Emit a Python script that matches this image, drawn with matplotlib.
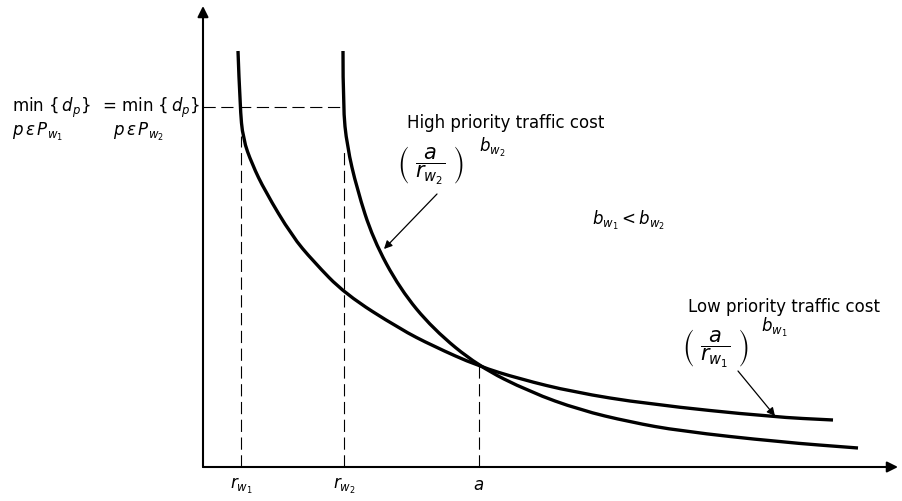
import numpy as np
import matplotlib
matplotlib.use("Agg")
import matplotlib.pyplot as plt
from matplotlib.path import Path
from matplotlib.patches import PathPatch

plt.rcParams['font.family'] = ['DejaVu Sans']
plt.rcParams['mathtext.fontset'] = 'dejavusans'

# curve points (units: pixels from the origin of the axes)
low_x = [35, 37, 40, 49, 62, 89, 110, 142, 197, 230, 275, 317, 370, 444, 570, 630]
low_y = [416, 360, 328, 303, 276, 231, 206, 173, 138, 121, 101, 88, 75, 63, 50, 47]

high_x = [140, 140, 144, 154, 170, 197, 230, 275, 327, 377, 427, 477, 577, 655]
high_y = [416, 360, 321, 278, 228, 178, 138, 101, 75, 57, 45, 36, 25, 19]

r_w1 = 38
r_w2 = 141
a_pt = 276
d_min = 360
a_cost = 101


def smooth_curve(xs, ys):
    # quadratic bezier through the midpoints, read points used as control points
    pts = np.column_stack([xs, ys]).astype(float)
    verts = [pts[0]]
    codes = [Path.MOVETO]
    for i in range(1, len(pts) - 1):
        mid = (pts[i] + pts[i + 1]) / 2
        verts += [pts[i], mid]
        codes += [Path.CURVE3, Path.CURVE3]
    verts.append(pts[-1])
    codes.append(Path.LINETO)
    return Path(verts, codes)


fig = plt.figure(figsize=(9.03, 5.02), dpi=100)
ax = fig.add_axes([0, 0, 1, 1])
ax.set_xlim(-203, 700)
ax.set_ylim(-34, 468)
ax.axis('off')

# axes with arrows
ax.annotate('', xy=(695, 0), xytext=(0, 0),
            arrowprops=dict(arrowstyle='-|>', lw=1.5, color='black', mutation_scale=16,
                            shrinkA=0, shrinkB=0))
ax.annotate('', xy=(0, 461), xytext=(0, 0),
            arrowprops=dict(arrowstyle='-|>', lw=1.5, color='black', mutation_scale=16,
                            shrinkA=0, shrinkB=0))

# cost curves
for xs, ys in [(low_x, low_y), (high_x, high_y)]:
    ax.add_patch(PathPatch(smooth_curve(xs, ys), facecolor='none', edgecolor='black',
                           lw=2.4, capstyle='butt', joinstyle='round'))

# dashed guides
dash = dict(color='black', lw=0.8, linestyle=(0, (11, 5)))
ax.plot([0, r_w2 - 1], [d_min, d_min], **dash)
ax.plot([r_w1, r_w1], [0, 331], **dash)
ax.plot([r_w2, r_w2], [0, 320], **dash)
ax.plot([a_pt, a_pt], [0, a_cost], **dash)

fs = 12
# left label
ax.text(-191, d_min, r'min $\{\,d_p\}$', fontsize=fs, ha='left', va='center')
ax.text(-101, d_min, r'= min $\{\,d_p\}$', fontsize=fs, ha='left', va='center')
ax.text(-191, 336, r'$p\,\epsilon\,P_{w_1}$', fontsize=fs, ha='left', va='center')
ax.text(-90, 336, r'$p\,\epsilon\,P_{w_2}$', fontsize=fs, ha='left', va='center')

# high priority label
ax.text(204, 345, 'High priority traffic cost', fontsize=fs, ha='left', va='center')
ax.text(194, 303, r'$\left(\ \dfrac{a}{r_{w_2}}\ \right)$', fontsize=15, ha='left', va='center')
ax.text(276, 321, r'$b_{w_2}$', fontsize=fs, ha='left', va='center')
ax.annotate('', xy=(181, 218), xytext=(234, 273),
            arrowprops=dict(arrowstyle='-|>', lw=0.9, color='black', mutation_scale=12,
                            shrinkA=0, shrinkB=0))

ax.text(389, 248, r'$b_{w_1} < b_{w_2}$', fontsize=fs, ha='left', va='center')

# low priority label
ax.text(485, 161, 'Low priority traffic cost', fontsize=fs, ha='left', va='center')
ax.text(479, 120, r'$\left(\ \dfrac{a}{r_{w_1}}\ \right)$', fontsize=15, ha='left', va='center')
ax.text(558, 141, r'$b_{w_1}$', fontsize=fs, ha='left', va='center')
ax.annotate('', xy=(572, 51), xytext=(535, 96),
            arrowprops=dict(arrowstyle='-|>', lw=0.9, color='black', mutation_scale=12,
                            shrinkA=0, shrinkB=0))

# x-axis labels
ax.text(r_w1, -8, r'$r_{w_1}$', fontsize=fs, ha='center', va='top')
ax.text(r_w2, -8, r'$r_{w_2}$', fontsize=fs, ha='center', va='top')
ax.text(a_pt, -8, r'$a$', fontsize=fs, ha='center', va='top')

fig.savefig('out.png', dpi=100)
